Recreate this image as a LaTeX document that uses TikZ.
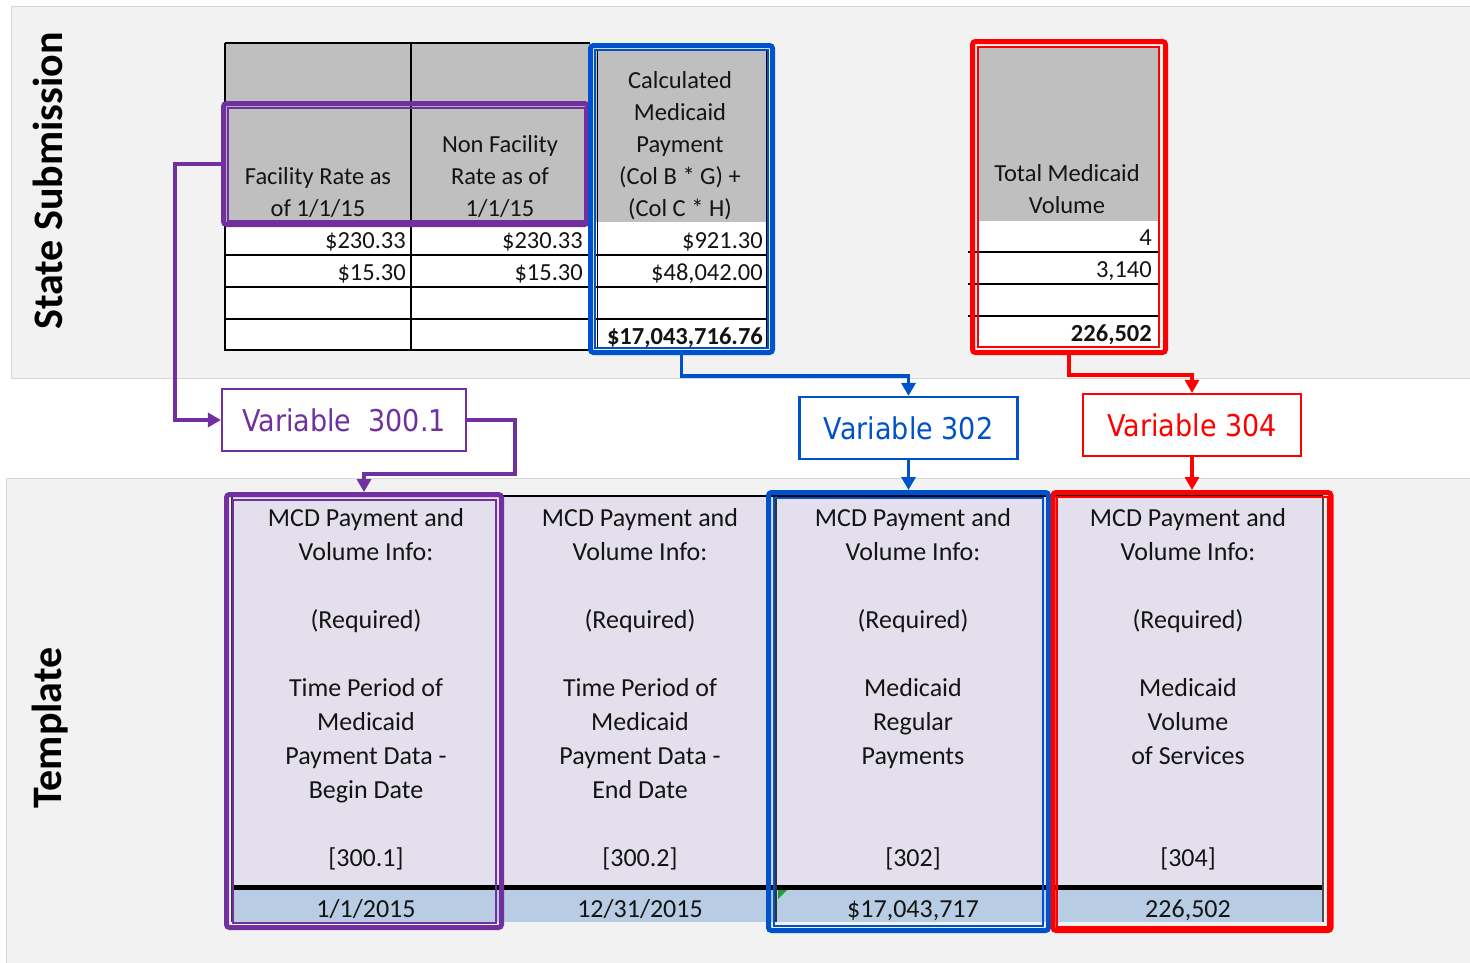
\documentclass[tikz,border=0pt]{standalone}
\usepackage{fontspec}
\setmainfont{Carlito}
\newfontfamily\varfont[FakeStretch=0.9]{DejaVu Sans}
\usetikzlibrary{arrows.meta}

\definecolor{bandgray}{HTML}{F2F2F2}
\definecolor{bandline}{HTML}{D6D6D6}
\definecolor{hdrgray}{HTML}{BFBFBF}
\definecolor{lav}{HTML}{E4DFEC}
\definecolor{rowblue}{HTML}{B8CCE4}
\definecolor{vpurple}{HTML}{7030A0}
\definecolor{vblue}{HTML}{0052CC}
\definecolor{vred}{HTML}{FF0000}
\definecolor{ink}{HTML}{141414}
\definecolor{xlgreen}{HTML}{1E9E3A}

\tikzset{
  hibox/.style={draw=#1, line width=5pt, rounded corners=3pt, inner sep=0pt},
  thinbox/.style={draw=#1, line width=1.2pt},
  varbox/.style={draw=#1, text=#1, line width=2.2pt, fill=white, inner sep=0pt,
    minimum width=218pt, minimum height=62pt, font=\varfont\fontsize{30}{36}\selectfont},
  link/.style={draw=#1, line width=3.4pt, -{Triangle[length=13pt,width=14pt]}},
  gridline/.style={draw=black, line width=1.2pt},
  hdrtext/.style={font=\fontsize{24.5}{32}\selectfont, align=center, anchor=north,
    inner sep=0pt, text=ink, execute at begin node={\rule{0pt}{22pt}}},
  valtext/.style={font=\fontsize{24.5}{30}\selectfont, anchor=base east, inner sep=0pt, text=ink},
  coltext/.style={font=\fontsize{26}{34}\selectfont, align=center, anchor=north,
    inner sep=0pt, text=ink, execute at begin node={\rule{0pt}{24pt}}},
  rowtext/.style={font=\fontsize{26}{30}\selectfont, anchor=base, inner sep=0pt, text=ink},
  sidetext/.style={font=\bfseries\fontsize{42}{46}\selectfont, rotate=90, inner sep=0pt, text=black}
}

\begin{document}
\begin{tikzpicture}[x=1pt,y=-1pt]
\useasboundingbox (0,0) rectangle (1470,962);
\fill[white] (0,0) rectangle (1470,962);

% section bands
\filldraw[fill=bandgray, draw=bandline, line width=0.8pt] (1472,6) -- (11,6) -- (11,378) -- (1472,378);
\filldraw[fill=bandgray, draw=bandline, line width=0.8pt] (1472,478) -- (6,478) -- (6,964) -- (1472,964);

\node[sidetext] (lblstate) at (48,181) {State Submission};
\node[sidetext] (lbltempl) at (50,728) {Template};

% ---------- state submission tables ----------
\fill[hdrgray] (225,43) rectangle (590,223);
\fill[white] (225,223) rectangle (590,350);
\fill[hdrgray] (595,50) rectangle (766,222);
\fill[white] (595,222) rectangle (766,348);
\fill[hdrgray] (978,47) rectangle (1159,221);
\fill[white] (978,221) rectangle (1159,347);

\draw[gridline] (225,43) -- (590,43);
\draw[gridline] (225,43) -- (225,350) -- (590,350);
\draw[gridline] (411,43) -- (411,350);
\foreach \yy in {255,287,319} {
  \draw[gridline] (225,\yy) -- (590,\yy);
  \draw[gridline] (595,\yy) -- (766,\yy);
}
\draw[draw=black, line width=0.8pt] (597,50) -- (597,348);
\draw[draw=black, line width=0.8pt] (766,50) -- (766,348);
\foreach \yy in {252,284,316} {
  \draw[gridline] (968,\yy) -- (1160,\yy);
}

\node[hdrtext] (hfac) at (318,167) {Facility Rate as\\of 1/1/15};
\node[hdrtext] (hnon) at (500,135) {Non Facility\\Rate as of\\1/1/15};
\node[hdrtext] (hcalc) at (680,71) {Calculated\\Medicaid\\Payment\\(Col B * G) +\\(Col C * H)};
\node[hdrtext] (htot) at (1067,164) {Total Medicaid\\Volume};

\node[valtext] (fa1) at (406,248) {\$230.33};
\node[valtext] (nf1) at (583,248) {\$230.33};
\node[valtext] (fa2) at (406,280) {\$15.30};
\node[valtext] (nf2) at (583,280) {\$15.30};
\node[valtext] (ca1) at (763,248) {\$921.30};
\node[valtext] (ca2) at (763,280) {\$48,042.00};
\node[valtext, font=\bfseries\fontsize{24.5}{30}\selectfont] (catot) at (763,344) {\$17,043,716.76};
\node[valtext] (vo1) at (1152,245) {4};
\node[valtext] (vo2) at (1152,277) {3,140};
\node[valtext, font=\bfseries\fontsize{24.5}{30}\selectfont] (votot) at (1152,341) {226,502};

% ---------- template table ----------
\fill[lav] (232,497) rectangle (1323,885);
\fill[rowblue] (232,890) rectangle (1323,922);
\draw[draw=black, line width=5pt] (232,887.5) -- (1323,887.5);
\draw[draw=black, line width=2.5pt] (232,496) -- (1323,496);
\foreach \xx in {232,500,776,1047} {
  \draw[draw=black!80, line width=1.2pt] (\xx,496) -- (\xx,922);
}
\draw[draw=black!70, line width=2pt] (1323,496) -- (1323,922);
\fill[xlgreen] (778,890) -- (787,890) -- (778,899) -- cycle;

\node[coltext] (tc1) at (366,508) {MCD Payment and\\Volume Info:\\~\\(Required)\\~\\Time Period of\\Medicaid\\Payment Data -\\Begin Date\\~\\{[300.1]}};
\node[coltext] (tc2) at (640,508) {MCD Payment and\\Volume Info:\\~\\(Required)\\~\\Time Period of\\Medicaid\\Payment Data -\\End Date\\~\\{[300.2]}};
\node[coltext] (tc3) at (913,508) {MCD Payment and\\Volume Info:\\~\\(Required)\\~\\Medicaid\\Regular\\Payments\\~\\~\\{[302]}};
\node[coltext] (tc4) at (1188,508) {MCD Payment and\\Volume Info:\\~\\(Required)\\~\\Medicaid\\Volume\\of Services\\~\\~\\{[304]}};

\node[rowtext] (tv1) at (366,917) {1/1/2015};
\node[rowtext] (tv2) at (640,917) {12/31/2015};
\node[rowtext] (tv3) at (913,917) {\$17,043,717};
\node[rowtext] (tv4) at (1188,917) {226,502};

% ---------- highlight frames ----------
\node[hibox=vpurple, minimum width=364pt, minimum height=121pt] (pbox) at (405.5,164) {};
\draw[thinbox=vpurple] (228,108) rectangle (585,221);
\node[hibox=vblue, minimum width=182pt, minimum height=307pt] (bbox) at (681.5,199) {};
\draw[thinbox=vblue] (595,50) rectangle (768,348);
\node[hibox=vred, minimum width=193pt, minimum height=311pt] (rbox) at (1069,197) {};
\draw[thinbox=vred] (978,47) rectangle (1159,347);

\node[hibox=vpurple, minimum width=275pt, minimum height=433pt] (pcol) at (364,711) {};
\draw[thinbox=vpurple] (233,500) rectangle (496,923);
\node[hibox=vblue, minimum width=280pt, minimum height=438pt] (bcol) at (908.5,711.5) {};
\draw[thinbox=vblue] (774,498) rectangle (1043,926);
\node[hibox=vred, minimum width=278pt, minimum height=438pt] (rcol) at (1192,711.5) {};
\draw[thinbox=vred] (1057,497) rectangle (1328,927);

% ---------- variable labels ----------
\node[varbox=vpurple, minimum width=244pt] (v300) at (344,420) {Variable\ \ 300.1};
\node[varbox=vblue] (v302) at (908.5,428) {Variable 302};
\node[varbox=vred] (v304) at (1192,425) {Variable 304};

% ---------- connectors ----------
\coordinate (pj) at (515,474);
\draw[link=vpurple] (pbox.west) -- ++(-46,0) |- (v300.west);
\draw[link=vpurple] (v300.east) -| (pj) -| (pcol.north);
\draw[link=vblue] (bbox.south) -- ++(0,21) -| (v302.north);
\draw[link=vblue] (v302.south) -- (bcol.north);
\draw[link=vred] (rbox.south) -- ++(0,20) -| (v304.north);
\draw[link=vred] (v304.south) -- (rcol.north);
\end{tikzpicture}
\end{document}
